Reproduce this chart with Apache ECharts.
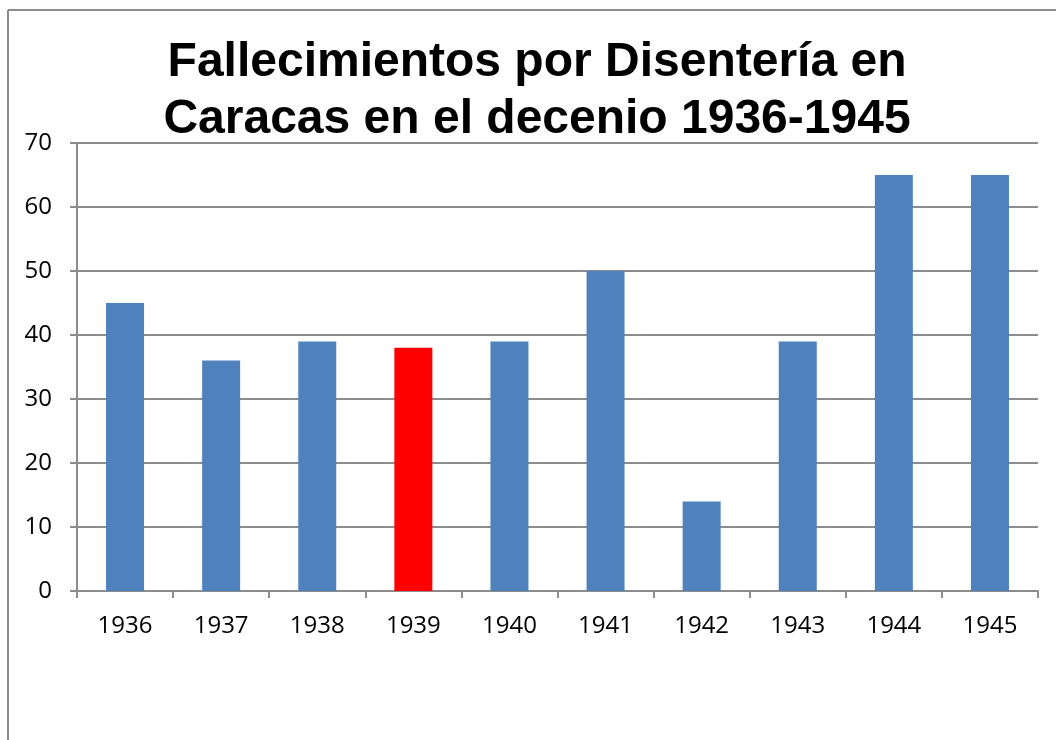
<!DOCTYPE html>
<html>
<head>
<meta charset="utf-8">
<script src="https://cdn.jsdelivr.net/npm/echarts@6/dist/echarts.min.js"></script>
<style>
  html, body { margin: 0; padding: 0; background: #fff; }
  #chart { width: 1056px; height: 740px; }
</style>
</head>
<body>
<div id="chart"></div>
<script>
const years = ['1936', '1937', '1938', '1939', '1940', '1941', '1942', '1943', '1944', '1945']
const deaths = [45, 36, 39, 38, 39, 50, 14, 39, 65, 65]
const highlightYear = '1939'

const chart = echarts.init(document.getElementById('chart'))

const option = {
  animation: false,
  title: {
    text: 'Fallecimientos por Disentería en\nCaracas en el decenio 1936-1945',
    left: 532,
    top: 29,
    textAlign: 'center',
    textStyle: {
      fontFamily: 'Liberation Sans',
      fontWeight: 'bold',
      fontSize: 48,
      lineHeight: 57,
      color: '#000'
    }
  },
  // outer frame (only top and left edges are visible in the original)
  graphic: [
    { type: 'line', shape: { x1: 8, y1: 10, x2: 1056, y2: 10 }, style: { stroke: '#8c8c8c', lineWidth: 2 } },
    { type: 'line', shape: { x1: 8, y1: 10, x2: 8, y2: 740 }, style: { stroke: '#8c8c8c', lineWidth: 2 } }
  ],
  grid: {
    left: 77,
    right: 18,
    top: 143,
    bottom: 149
  },
  xAxis: {
    type: 'category',
    data: years,
    axisLine: { lineStyle: { color: '#8c8c8c', width: 2 } },
    axisTick: { show: true, length: 7, alignWithLabel: false, lineStyle: { color: '#8c8c8c', width: 2 } },
    axisLabel: {
      margin: 23,
      fontFamily: 'Open Sans',
      fontSize: 24,
      color: '#000'
    }
  },
  yAxis: {
    type: 'value',
    min: 0,
    max: 70,
    interval: 10,
    axisLine: { show: true, lineStyle: { color: '#8c8c8c', width: 2 } },
    axisTick: { show: true, length: 7, lineStyle: { color: '#8c8c8c', width: 2 } },
    axisLabel: {
      margin: 25,
      fontFamily: 'Open Sans',
      fontSize: 24,
      color: '#000'
    },
    splitLine: { lineStyle: { color: '#8c8c8c', width: 2 } }
  },
  series: [
    {
      type: 'bar',
      barWidth: 38,
      data: deaths.map((v, i) => ({
        value: v,
        itemStyle: { color: years[i] === highlightYear ? '#ff0000' : '#4f81bd' }
      }))
    }
  ]
}

chart.setOption(option)
</script>
</body>
</html>
